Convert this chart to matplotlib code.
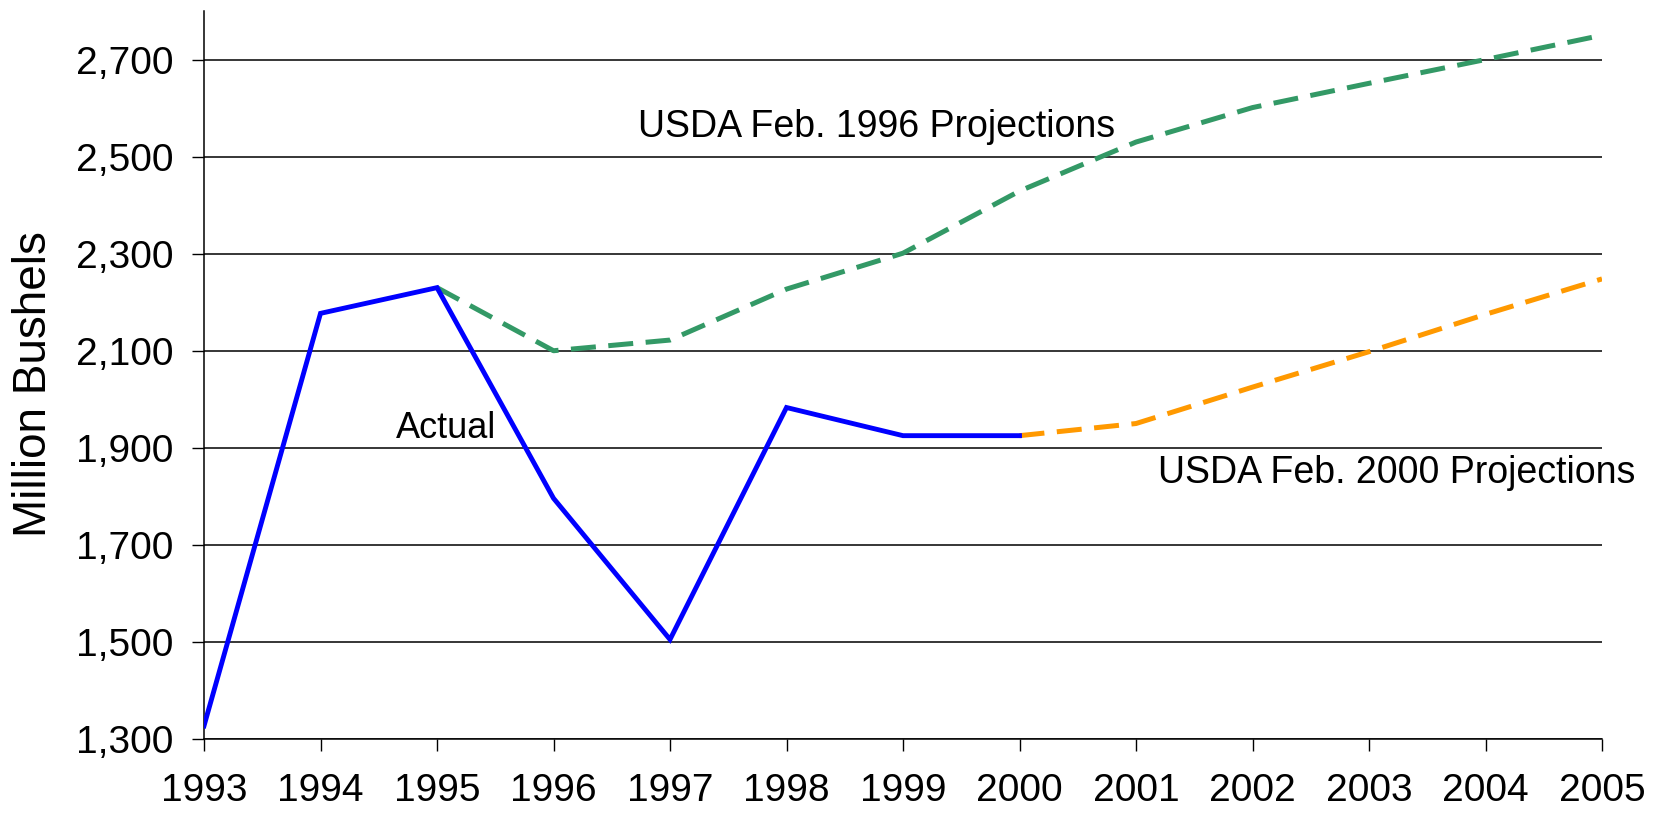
import matplotlib
matplotlib.use("Agg")
import matplotlib.pyplot as plt
from matplotlib.ticker import FuncFormatter

# ---- data ----
years = list(range(1993, 2006))
actual_years = [1993, 1994, 1995, 1996, 1997, 1998, 1999, 2000]
actual = [1327, 2177, 2230, 1796, 1505, 1983, 1925, 1925]

proj96_years = [1995, 1996, 1997, 1998, 1999, 2000, 2001, 2002, 2003, 2004, 2005]
proj96 = [2230, 2100, 2122, 2227, 2301, 2429, 2530, 2601, 2651, 2700, 2750]

proj00_years = [2000, 2001, 2002, 2003, 2004, 2005]
proj00 = [1925, 1950, 2025, 2098, 2175, 2248]

yticks = [1300, 1500, 1700, 1900, 2100, 2300, 2500, 2700]

# ---- figure ----
W, H = 1657, 814
fig = plt.figure(figsize=(W / 100, H / 100), dpi=100)
ax = fig.add_axes([204 / W, (H - 739) / H, (1602 - 204) / W, (739 - 11) / H])

font = "Liberation Sans"
plt.rcParams["font.family"] = [font, "DejaVu Sans"]

for yv in yticks:
    ax.axhline(yv, color="black", lw=1.1, zorder=1)

ax.plot(actual_years, actual, color="#0000FF", lw=3.5, zorder=3,
        solid_joinstyle="miter")
ax.plot(proj96_years, proj96, color="#339966", lw=3.6, zorder=2,
        dashes=(5.0, 2.5))
ax.plot(proj00_years, proj00, color="#FF9900", lw=3.6, zorder=2,
        dashes=(5.0, 2.5))

ax.set_xlim(1993, 2005)
ax.set_ylim(1300, 2800)
ax.set_xticks(years)
ax.set_yticks(yticks)
ax.yaxis.set_major_formatter(FuncFormatter(lambda v, p: f"{int(v):,}"))

for s in ["top", "right"]:
    ax.spines[s].set_visible(False)
for s in ["left", "bottom"]:
    ax.spines[s].set_linewidth(1.1)
    ax.spines[s].set_color("black")

ax.tick_params(axis="y", direction="out", length=8.6, width=1, pad=13.5,
               labelsize=28)
ax.tick_params(axis="x", direction="out", length=8.6, width=1, pad=16,
               labelsize=28)
for lab in ax.get_xticklabels() + ax.get_yticklabels():
    lab.set_fontfamily(font)

fig.text(34 / W, 1 - 384.5 / H, "Million Bushels", rotation=90,
         ha="center", va="center", fontsize=33, family=font)

ax.text(1996.725, 2541, "USDA Feb. 1996 Projections", fontsize=27,
        family=font, va="baseline", ha="left")
ax.text(2001.19, 1828, "USDA Feb. 2000 Projections", fontsize=27,
        family=font, va="baseline", ha="left")
ax.text(1994.65, 1920, "Actual", fontsize=26, family=font,
        va="baseline", ha="left")

fig.savefig("out.png", dpi=100, facecolor="white")
